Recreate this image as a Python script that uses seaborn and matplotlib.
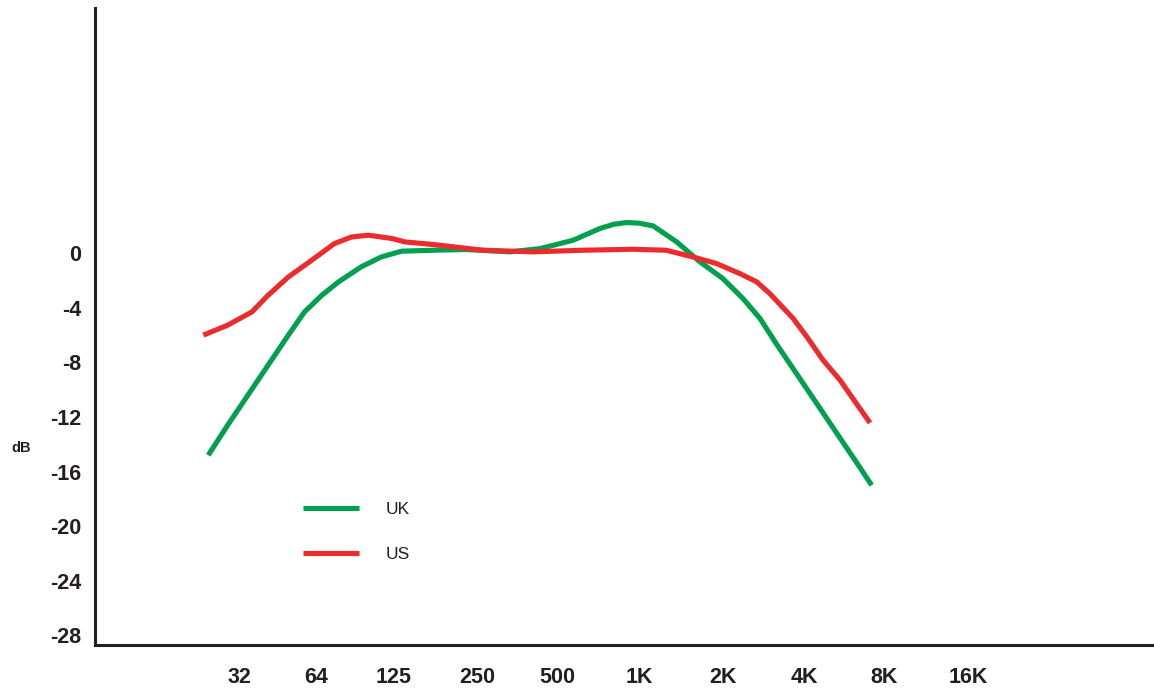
import seaborn as sns
import matplotlib.pyplot as plt
import pandas as pd

# octave position (0 = 32 Hz, 1 = 64 Hz, ...) and level in dB
uk_octave = [-0.39, -0.15, 0.10, 0.35, 0.60, 0.80, 1.01, 1.22, 1.50, 1.75, 2.00, 2.39, 2.80,
             3.34, 3.71, 4.12, 4.45, 4.62, 4.78, 4.94, 5.11, 5.40, 5.69, 5.97, 6.22, 6.43,
             6.63, 6.88, 7.13, 7.38, 7.62, 7.81]
uk_db = [-14.8, -12.6, -10.4, -8.2, -6.0, -4.3, -3.1, -2.1, -1.0, -0.27, 0.15, 0.22, 0.27,
         0.10, 0.34, 0.95, 1.81, 2.12, 2.25, 2.2, 2.0, 0.83, -0.64, -1.85, -3.32, -4.78,
         -6.62, -8.81, -11.0, -13.2, -15.3, -17.0]

us_octave = [-0.45, -0.15, 0.15, 0.35, 0.60, 0.89, 1.17, 1.38, 1.59, 1.88, 2.04, 2.39, 3.01,
             3.63, 4.24, 4.86, 5.27, 5.60, 5.89, 6.18, 6.39, 6.55, 6.84, 7.01, 7.21, 7.42,
             7.62, 7.79]
us_db = [-6.0, -5.27, -4.3, -3.08, -1.74, -0.51, 0.71, 1.19, 1.32, 1.08, 0.83, 0.64, 0.22,
         0.10, 0.22, 0.29, 0.22, -0.27, -0.75, -1.49, -2.10, -2.95, -4.78, -6.13, -7.84, -9.30,
         -11.0, -12.43]

freq_labels = ['32', '64', '125', '250', '500', '1K', '2K', '4K', '8K', '16K']
freq_pos = [0, 0.95, 1.9, 2.93, 3.92, 4.94, 5.97, 6.98, 7.96, 9.0]
db_ticks = [0, -4, -8, -12, -16, -20, -24, -28]

df = pd.concat([
    pd.DataFrame({'octave': uk_octave, 'dB': uk_db, 'region': 'UK'}),
    pd.DataFrame({'octave': us_octave, 'dB': us_db, 'region': 'US'}),
])

sns.set_style('white')
plt.rcParams['font.family'] = ['Liberation Sans', 'DejaVu Sans']

fig = plt.figure(figsize=(11.54, 6.89), dpi=100)
ax = fig.add_axes([0.0823, 0.064, 0.9177, 0.924])

sns.lineplot(data=df, x='octave', y='dB', hue='region', hue_order=['UK', 'US'],
             palette={'UK': '#00a04f', 'US': '#ec2b2f'}, linewidth=3.7,
             solid_capstyle='butt', solid_joinstyle='round', ax=ax)

ax.set_xlim(-1.79, 11.3)
ax.set_ylim(-28.7, 17.95)
ax.set_xticks(freq_pos)
ax.set_xticklabels(freq_labels)
ax.set_yticks(db_ticks)
ax.set_yticklabels([str(v) for v in db_ticks])
ax.tick_params(axis='both', length=0, labelsize=15.5, colors='#231f20')
ax.tick_params(axis='x', pad=16)
ax.tick_params(axis='y', pad=10)
for lab in ax.get_xticklabels() + ax.get_yticklabels():
    lab.set_fontweight('bold')
ax.set_xlabel('')
ax.set_ylabel('')

for side in ['top', 'right']:
    ax.spines[side].set_visible(False)
for side in ['left', 'bottom']:
    ax.spines[side].set_color('#231f20')
    ax.spines[side].set_linewidth(2.2)

fig.text(21 / 1154, 1 - 448 / 689, 'dB', fontsize=10.5, fontweight='bold',
         ha='center', va='center', color='#231f20')

handles, labels = ax.get_legend_handles_labels()
leg = ax.legend(handles, labels, loc='center left', frameon=False,
                bbox_to_anchor=(303 / 1154, 1 - 532 / 689), bbox_transform=fig.transFigure,
                fontsize=12.5, handlelength=3.2, handletextpad=1.55, labelspacing=1.75,
                borderpad=0, borderaxespad=0)
for h in leg.get_lines():
    h.set_linewidth(3.7)
    h.set_solid_capstyle('butt')
for t in leg.get_texts():
    t.set_color('#231f20')

fig.savefig('out.png', dpi=100)
